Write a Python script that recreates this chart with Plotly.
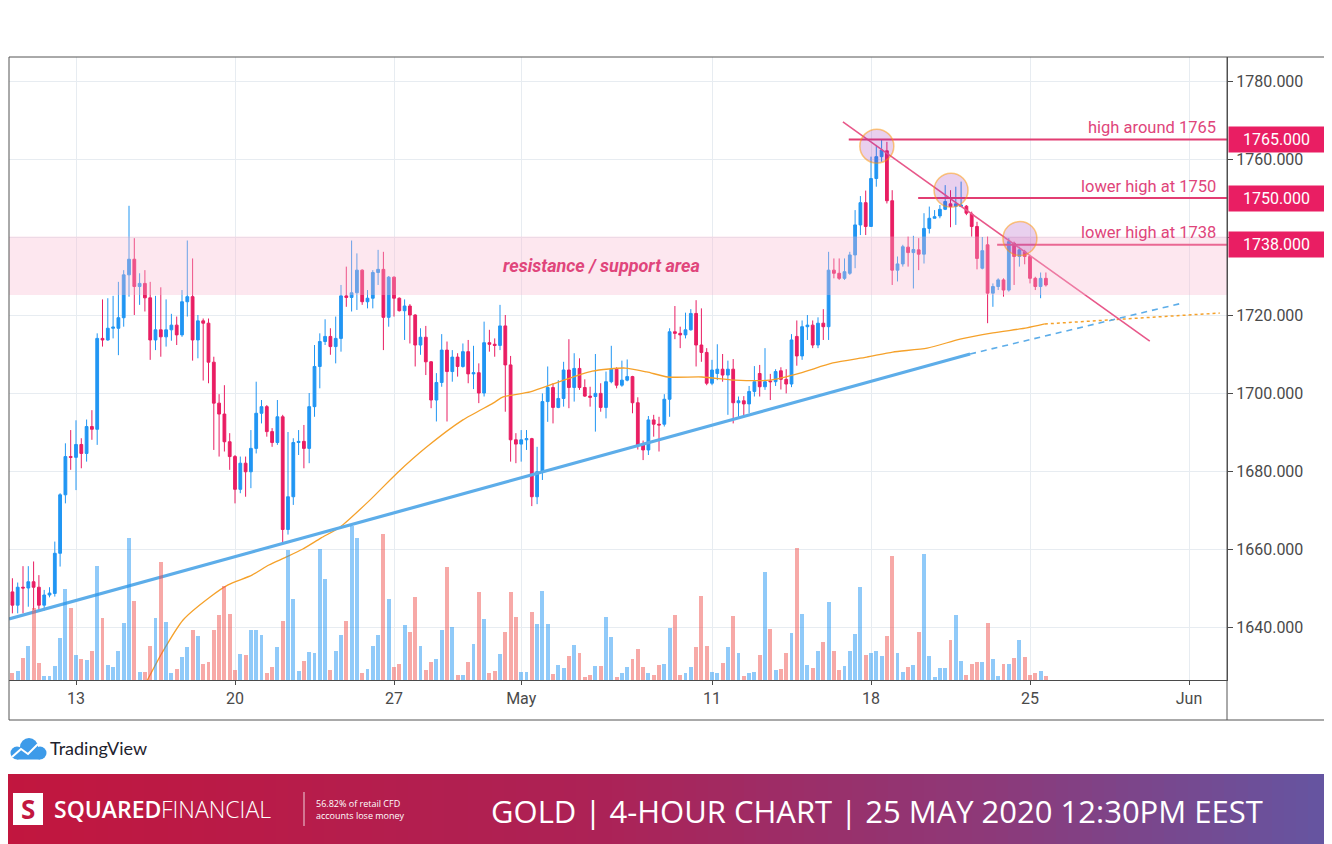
import plotly.graph_objects as go

# the page places the figure 8px from the window's top-left corner
OFF = 8
W, H = 1332 - OFF, 844 - OFF

# ---------------- data ----------------
bar_index = list(range(196))

opens = [1649.0,1645.6,1650.2,1650.0,1651.6,1650.2,1645.6,1648.2,1648.6,1658.9,
         1673.9,1683.7,1683.5,1686.8,1684.5,1691.4,1690.7,1714.0,1713.6,1716.6,
         1716.6,1719.3,1730.3,1734.3,1727.3,1728.1,1724.4,1713.6,1716.2,1714.4,
         1716.2,1717.4,1714.9,1723.4,1724.7,1713.6,1718.5,1717.9,1707.9,1697.4,
         1694.6,1687.5,1683.7,1675.3,1682.0,1679.8,1685.8,1694.8,1696.5,1690.1,
         1687.3,1693.9,1665.0,1673.4,1687.3,1687.6,1685.8,1696.5,1706.8,1713.2,
         1714.5,1711.9,1714.0,1724.9,1724.5,1725.7,1731.5,1723.4,1724.3,1730.9,
         1731.7,1719.4,1729.7,1724.3,1721.1,1722.3,1720.0,1712.3,1714.3,1708.0,
         1698.2,1702.7,1711.0,1705.5,1709.2,1706.8,1710.6,1704.9,1705.2,1700.0,
         1712.9,1712.5,1712.2,1717.2,1707.2,1688.0,1686.9,1688.0,1688.3,1673.4,
         1679.8,1697.8,1701.4,1696.3,1698.6,1705.9,1701.4,1706.3,1701.4,1699.2,
         1699.1,1699.9,1696.3,1702.9,1706.1,1702.0,1703.3,1704.2,1697.5,1686.7,
         1685.4,1693.1,1692.0,1692.0,1698.4,1715.7,1715.3,1714.9,1716.2,1720.4,
         1712.3,1710.4,1702.5,1705.0,1706.1,1704.6,1706.1,1697.5,1698.0,1697.2,
         1700.4,1705.0,1701.6,1703.1,1702.9,1705.7,1703.5,1702.3,1714.5,1709.5,
         1717.0,1717.4,1712.3,1717.9,1717.0,1731.5,1730.7,1729.4,1730.7,1735.4,
         1743.1,1748.8,1742.7,1755.0,1760.6,1762.1,1749.3,1731.5,1733.1,1737.4,
         1736.0,1736.7,1735.6,1742.2,1744.8,1745.4,1747.1,1748.5,1747.9,1747.8,
         1747.9,1745.9,1742.7,1732.0,1738.0,1725.6,1727.3,1729.0,1726.4,1738.4,
         1735.0,1736.2,1735.0,1729.4,1727.3,1729.4]
highs = [1652.5,1651.4,1655.6,1655.6,1656.8,1653.3,1649.5,1650.2,1661.9,1674.3,
         1687.1,1690.5,1693.0,1688.4,1693.2,1695.6,1715.3,1724.0,1724.3,1724.9,
         1728.5,1731.5,1748.0,1739.7,1730.7,1731.5,1728.5,1724.9,1727.1,1724.0,
         1720.3,1719.6,1726.4,1739.1,1734.5,1720.0,1719.1,1719.1,1709.3,1699.7,
         1702.0,1689.7,1684.1,1683.7,1683.7,1690.5,1702.9,1698.2,1696.9,1691.0,
         1698.2,1694.4,1690.0,1688.4,1690.5,1691.8,1700.0,1712.3,1715.3,1718.9,
         1716.6,1719.6,1727.7,1732.4,1739.1,1735.8,1731.7,1726.4,1731.5,1736.7,
         1736.2,1730.0,1729.9,1724.5,1724.0,1722.8,1720.2,1716.6,1717.2,1708.2,
         1705.1,1715.1,1713.2,1711.0,1710.2,1712.7,1713.6,1712.1,1707.6,1718.3,
         1716.2,1714.0,1722.6,1720.0,1709.5,1689.7,1690.5,1690.5,1688.5,1686.2,
         1699.9,1706.8,1702.5,1703.3,1708.0,1713.8,1710.2,1708.9,1703.5,1701.6,
         1710.0,1702.5,1705.5,1712.1,1706.6,1708.3,1708.6,1704.4,1698.9,1687.8,
         1694.1,1694.4,1693.9,1699.7,1716.6,1722.3,1717.0,1720.6,1721.5,1723.8,
         1721.7,1711.5,1708.5,1712.5,1710.0,1708.3,1708.7,1699.1,1699.2,1701.8,
         1706.9,1707.2,1711.5,1704.9,1706.1,1706.6,1706.1,1715.1,1718.6,1718.6,
         1720.0,1718.6,1719.4,1721.5,1736.2,1734.5,1734.5,1734.5,1736.2,1746.9,
         1750.5,1751.9,1760.6,1763.6,1764.9,1764.4,1752.0,1735.0,1738.0,1740.1,
         1740.3,1739.7,1746.1,1747.8,1746.9,1748.2,1753.3,1752.0,1752.9,1754.2,
         1748.2,1746.5,1743.9,1740.0,1740.1,1728.1,1729.4,1729.4,1739.7,1738.8,
         1737.5,1736.7,1735.4,1729.8,1730.9,1730.9]
lows = [1643.5,1643.5,1643.5,1645.2,1644.4,1644.4,1644.2,1647.6,1647.8,1655.5,
        1671.7,1680.3,1675.1,1680.7,1682.4,1688.0,1686.7,1711.9,1713.4,1714.0,
        1709.7,1717.0,1724.7,1720.0,1722.6,1720.9,1708.5,1711.0,1709.3,1711.9,
        1713.4,1712.3,1714.4,1719.6,1708.3,1708.9,1703.2,1702.5,1685.4,1683.7,
        1685.0,1680.3,1671.7,1674.3,1673.4,1675.6,1684.5,1692.2,1688.8,1686.2,
        1686.7,1661.3,1663.7,1671.3,1684.1,1680.7,1682.0,1693.9,1701.2,1712.3,
        1709.8,1707.6,1710.6,1722.1,1720.9,1721.3,1722.6,1721.7,1721.7,1727.7,
        1711.0,1717.0,1719.6,1720.9,1713.6,1712.7,1706.8,1709.8,1704.6,1696.1,
        1692.7,1701.6,1692.7,1702.9,1704.2,1706.5,1702.5,1701.0,1697.4,1699.1,
        1710.6,1709.3,1711.0,1695.2,1682.4,1682.0,1682.4,1685.4,1671.0,1671.5,
        1677.7,1692.6,1692.2,1696.1,1696.5,1696.1,1697.8,1700.8,1699.0,1696.5,
        1690.1,1695.2,1693.5,1702.5,1701.2,1701.6,1703.0,1694.8,1685.5,1682.8,
        1684.1,1688.8,1685.0,1691.4,1693.9,1713.8,1711.5,1714.0,1716.0,1706.8,
        1708.0,1702.0,1702.0,1703.3,1702.9,1694.4,1692.2,1693.9,1693.9,1694.8,
        1699.1,1699.1,1700.8,1698.2,1701.8,1700.9,1699.9,1701.5,1707.0,1708.5,
        1713.6,1711.5,1711.5,1713.6,1713.6,1729.4,1729.0,1729.0,1730.3,1732.0,
        1740.5,1740.5,1742.7,1752.9,1759.3,1748.6,1727.7,1728.6,1732.4,1732.4,
        1726.8,1731.5,1733.2,1740.9,1744.8,1744.8,1746.9,1742.5,1743.1,1747.8,
        1745.6,1740.1,1731.7,1731.7,1717.9,1722.1,1726.4,1724.7,1726.0,1727.7,
        1732.4,1733.0,1728.1,1726.4,1724.3,1727.3]
closes = [1645.6,1650.2,1650.0,1651.6,1650.2,1645.6,1648.2,1648.7,1658.9,1673.9,
          1683.7,1683.5,1686.8,1684.5,1691.4,1690.7,1714.0,1713.6,1716.6,1716.9,
          1719.3,1730.3,1734.3,1727.3,1728.1,1724.4,1713.6,1716.2,1714.4,1716.2,
          1717.4,1714.9,1723.4,1724.7,1713.6,1718.5,1717.9,1707.9,1697.4,1694.6,
          1687.5,1683.7,1675.3,1682.0,1679.8,1685.8,1694.8,1696.5,1690.1,1687.3,
          1693.9,1665.0,1673.4,1687.3,1687.6,1685.8,1696.5,1706.8,1713.2,1714.5,
          1711.9,1714.0,1724.9,1724.5,1725.7,1731.5,1723.4,1724.3,1730.9,1731.7,
          1719.4,1729.7,1724.3,1721.1,1722.3,1720.0,1712.3,1714.3,1708.0,1698.2,
          1702.7,1711.0,1705.5,1709.2,1706.8,1710.6,1704.9,1705.2,1700.0,1712.9,
          1712.5,1712.2,1717.2,1707.2,1688.0,1686.9,1688.0,1688.3,1673.4,1679.8,
          1697.8,1701.4,1696.3,1698.6,1705.9,1701.4,1706.3,1701.4,1699.2,1698.9,
          1699.9,1696.3,1702.9,1706.1,1702.0,1703.3,1704.2,1697.5,1686.7,1685.4,
          1693.1,1692.0,1691.8,1698.4,1715.7,1715.3,1714.9,1716.2,1720.4,1712.3,
          1710.4,1702.5,1705.9,1706.1,1704.6,1706.1,1697.5,1698.0,1697.2,1700.4,
          1702.9,1701.6,1702.9,1702.9,1705.5,1703.5,1702.3,1713.6,1709.5,1717.0,
          1717.4,1712.3,1717.9,1717.0,1731.5,1730.7,1729.4,1731.1,1735.4,1743.1,
          1748.8,1742.7,1755.0,1760.6,1762.3,1749.3,1731.5,1733.1,1737.5,1736.0,
          1736.8,1735.6,1742.2,1744.8,1745.2,1747.1,1749.1,1747.8,1748.5,1748.2,
          1746.1,1742.7,1734.5,1736.5,1725.6,1727.3,1729.0,1726.4,1738.8,1735.0,
          1736.7,1735.0,1729.4,1727.3,1729.4,1727.7]
volumes = [20,26,66,103,216,50,11,11,43,126,273,215,76,64,61,86,343,186,46,38,
           88,171,426,238,23,23,103,186,353,173,21,34,68,100,150,132,48,55,150,195,
           283,198,30,78,76,150,150,136,21,38,100,176,390,243,28,58,85,80,393,303,
           31,86,135,178,461,426,21,33,103,135,438,243,38,48,166,145,248,103,30,53,
           63,151,338,160,16,16,55,108,265,183,21,28,78,143,265,188,23,23,204,168,
           268,168,18,45,35,73,106,80,10,15,41,43,188,128,10,21,40,63,93,38,
           21,15,46,48,155,196,16,20,40,100,253,103,23,21,51,98,192,81,13,21,
           23,76,325,152,30,34,82,141,395,197,45,37,86,115,235,86,30,43,88,138,
           280,76,80,88,73,132,373,82,23,40,45,145,378,71,10,37,37,120,195,58,
           15,47,54,54,171,63,13,47,49,65,119,70,15,20,27,13]

tick_positions = [12, 42, 72, 96, 132, 162, 192, 222]
tick_labels = ["13", "20", "27", "May", "11", "18", "25", "Jun"]

price_ticks = [1640, 1660, 1680, 1700, 1720, 1740, 1760, 1780]
price_tick_labels = ["1640.000", "1660.000", "1680.000", "1700.000", "1720.000",
                     "", "1760.000", "1780.000"]

ma_index = [24.0, 25.6, 28.2, 32.2, 37.3, 40.7, 45.2, 48.4, 51.6, 54.8, 58.2, 61.8,
            67.5, 72.6, 78.2, 85.0, 90.7, 92.6, 97.7, 103.0, 109.4, 115.6, 119.7,
            123.7, 130.1, 136.3, 142.9, 148.6, 154.8, 161.2, 166.1, 172.6, 178.8,
            185.0, 191.4, 194.8]
ma_values = [1622.5, 1626.7, 1633.3, 1641.8, 1647.7, 1650.8, 1653.3, 1655.9, 1657.9,
             1660.0, 1662.8, 1665.6, 1672.6, 1679.5, 1686.2, 1693.1, 1697.4, 1699.0,
             1700.3, 1702.8, 1705.6, 1706.4, 1705.4, 1704.1, 1704.1, 1703.3, 1703.3,
             1705.1, 1707.7, 1709.2, 1710.5, 1711.5, 1713.8, 1715.4, 1716.7, 1717.7]
ma_ext_index = [194.8, 227.8]
ma_ext_values = [1717.7, 1720.5]

trend_index = [-0.64, 180.7]
trend_values = [1642.05, 1710.0]
trend_ext_index = [180.7, 220.9]
trend_ext_values = [1710.0, 1723.1]

down_trend_index = [156.7, 214.6]
down_trend_values = [1769.5, 1713.3]

levels = [1765, 1750, 1738]
level_start = [157.8, 170.9, 185.8]
level_texts = ["high around 1765", "lower high at 1750", "lower high at 1738"]

band_low, band_high = 1725.1, 1740.1

circle_index = [163.1, 177.1, 190.1]
circle_values = [1763.3, 1752.0, 1739.6]

# ---------------- geometry / style (positions in screenshot pixels) ----------------
X0, X1 = 9, 1227
Y0, Y1 = 57, 680
PX_BAR = 5.3
PX_UNIT = 3.9
xr = [(X0 - 12.4) / PX_BAR, (X1 - 12.4) / PX_BAR]
yr = [1720 - (Y1 - 315) / PX_UNIT, 1720 + (315 - Y0) / PX_UNIT]

UP = "#2196f3"
DOWN = "#e91e63"
UP_VOL = "rgba(33,150,243,0.5)"
DOWN_VOL = "rgba(239,83,80,0.5)"
PINK = "#e23d72"
FONT = "Roboto"
AX_COL = "#4a4a4a"
GRID = "#e7ecf1"


def px(x):
    return (x - OFF) / W


def py(y):
    return 1 - (y - OFF) / H


vol_colors = [UP_VOL if c >= o else DOWN_VOL for o, c in zip(opens, closes)]

fig = go.Figure()

fig.add_trace(go.Bar(x=bar_index, y=volumes, marker_color=vol_colors,
                     marker_line_width=0, width=0.75, yaxis="y2",
                     showlegend=False, hoverinfo="skip"))

fig.add_trace(go.Scatter(x=ma_index, y=ma_values, mode="lines",
                         line=dict(color="#f5a12a", width=1.3, shape="spline", smoothing=0.6),
                         showlegend=False, hoverinfo="skip"))
fig.add_trace(go.Scatter(x=ma_ext_index, y=ma_ext_values, mode="lines",
                         line=dict(color="#f5a12a", width=1.5, dash="dot"),
                         showlegend=False, hoverinfo="skip"))

fig.add_trace(go.Scatter(x=trend_index, y=trend_values, mode="lines",
                         line=dict(color="#5dade9", width=3.2),
                         showlegend=False, hoverinfo="skip"))
fig.add_trace(go.Scatter(x=trend_ext_index, y=trend_ext_values, mode="lines",
                         line=dict(color="#5dade9", width=1.6, dash="6px,5px"),
                         showlegend=False, hoverinfo="skip"))

fig.add_trace(go.Candlestick(
    x=bar_index, open=opens, high=highs, low=lows, close=closes,
    increasing=dict(line=dict(color=UP, width=1), fillcolor=UP),
    decreasing=dict(line=dict(color=DOWN, width=1), fillcolor=DOWN),
    whiskerwidth=0, showlegend=False, hoverinfo="skip"))

fig.add_trace(go.Scatter(x=down_trend_index, y=down_trend_values, mode="lines",
                         line=dict(color="#e8588a", width=1.6),
                         showlegend=False, hoverinfo="skip"))

for lv, st in zip(levels, level_start):
    fig.add_trace(go.Scatter(x=[st, xr[1]], y=[lv, lv], mode="lines",
                             line=dict(color=PINK, width=2),
                             showlegend=False, hoverinfo="skip"))

shapes = []
shapes.append(dict(type="rect", xref="paper", yref="y", x0=px(X0), x1=px(X1),
                   y0=band_low, y1=band_high, fillcolor="rgba(248,187,208,0.35)",
                   line_width=0, layer="above"))
rx, ry = 17 / PX_BAR, 17 / PX_UNIT
for cx, cy in zip(circle_index, circle_values):
    shapes.append(dict(type="circle", xref="x", yref="y", x0=cx - rx, x1=cx + rx,
                       y0=cy - ry, y1=cy + ry, fillcolor="rgba(156,39,176,0.22)",
                       line=dict(color="rgba(255,152,0,0.5)", width=1.5), layer="above"))

frame_col = "#555555"
shapes += [
    dict(type="line", xref="paper", yref="paper", x0=px(X0), x1=1, y0=py(Y0), y1=py(Y0),
         line=dict(color=frame_col, width=1)),
    dict(type="line", xref="paper", yref="paper", x0=px(X0), x1=px(X0), y0=py(Y0), y1=py(720),
         line=dict(color=frame_col, width=1)),
    dict(type="line", xref="paper", yref="paper", x0=px(X0), x1=1, y0=py(720), y1=py(720),
         line=dict(color=frame_col, width=1)),
    dict(type="line", xref="paper", yref="paper", x0=px(X1), x1=px(X1), y0=py(Y0), y1=py(720),
         line=dict(color=frame_col, width=1)),
]

stops = [(0.0, (194, 22, 62)), (0.45, (172, 34, 86)), (0.75, (140, 58, 122)), (1.0, (100, 86, 162))]


def grad(t):
    for (t0, c0), (t1, c1) in zip(stops[:-1], stops[1:]):
        if t <= t1:
            f = (t - t0) / (t1 - t0)
            return "rgb(%d,%d,%d)" % tuple(round(a + (b - a) * f) for a, b in zip(c0, c1))
    return "rgb(%d,%d,%d)" % stops[-1][1]


NSTRIP = 111
for k in range(NSTRIP):
    a = k * 1332 / NSTRIP
    b = (k + 1) * 1332 / NSTRIP + 0.8
    shapes.append(dict(type="rect", xref="paper", yref="paper", x0=px(a), x1=px(b),
                       y0=py(846), y1=py(774), fillcolor=grad((k + 0.5) / NSTRIP),
                       line_width=0, layer="above"))

shapes.append(dict(type="rect", xref="paper", yref="paper", x0=px(13), x1=px(43),
                   y0=py(825), y1=py(793), fillcolor="white", line_width=0, layer="above"))
shapes.append(dict(type="line", xref="paper", yref="paper", x0=px(304), x1=px(304),
                   y0=py(792), y1=py(826), line=dict(color="rgba(255,255,255,0.8)", width=1),
                   layer="above"))

TV = "#3d9be9"
for (cx, cy, r) in [(29, 747, 9), (17, 753, 6.5), (40, 753, 6.5)]:
    shapes.append(dict(type="circle", xref="paper", yref="paper", x0=px(cx - r), x1=px(cx + r),
                       y0=py(cy + r), y1=py(cy - r), fillcolor=TV, line_width=0, layer="above"))
shapes.append(dict(type="rect", xref="paper", yref="paper", x0=px(17), x1=px(40),
                   y0=py(759.5), y1=py(750), fillcolor=TV, line_width=0, layer="above"))
zig = [(12, 757), (21, 749), (28, 754), (38, 744)]
path = "M " + " L ".join("%f,%f" % (px(a), py(b)) for a, b in zig)
shapes.append(dict(type="path", xref="paper", yref="paper", path=path,
                   line=dict(color="white", width=2), layer="above"))

annotations = []
for lv, txt in zip(levels, level_texts):
    annotations.append(dict(xref="paper", yref="y", x=px(1218), y=lv, yshift=12,
                            xanchor="right", yanchor="middle", showarrow=False, text=txt,
                            font=dict(family=FONT, size=16.5, color="#e0457b")))
    annotations.append(dict(xref="paper", yref="y", x=px(1228), y=lv, xanchor="left",
                            yanchor="middle", showarrow=False, text="%.3f" % lv,
                            bgcolor=DOWN, width=91, height=21, borderpad=2,
                            font=dict(family=FONT, size=16, color="white")))

annotations.append(dict(xref="paper", yref="y", x=px(601), y=(band_low + band_high) / 2,
                        xanchor="center", yanchor="middle", showarrow=False,
                        text="<b><i>resistance / support area</i></b>",
                        font=dict(family=FONT, size=18, color="#e0457b")))

annotations.append(dict(xref="paper", yref="paper", x=px(48), y=py(748), xanchor="left",
                        yanchor="middle", showarrow=False, text="TradingView",
                        font=dict(family="Lato", size=18, color="#1e222d")))

annotations.append(dict(xref="paper", yref="paper", x=px(28), y=py(809), xanchor="center",
                        yanchor="middle", showarrow=False, text="<b>S</b>",
                        font=dict(family="Open Sans", size=26, color="#c2173f")))
annotations.append(dict(xref="paper", yref="paper", x=px(52), y=py(809), xanchor="left",
                        yanchor="middle", showarrow=False, text="SQUARED",
                        font=dict(family="Open Sans", size=23, color="white", weight=600)))
annotations.append(dict(xref="paper", yref="paper", x=px(159), y=py(809), xanchor="left",
                        yanchor="middle", showarrow=False, text="FINANCIAL",
                        font=dict(family="Open Sans", size=23, color="white", weight=300)))
annotations.append(dict(xref="paper", yref="paper", x=px(314), y=py(809), xanchor="left",
                        yanchor="middle", showarrow=False, align="left",
                        text="56.82% of retail CFD<br>accounts lose money",
                        font=dict(family="Open Sans", size=9, color="white")))
annotations.append(dict(xref="paper", yref="paper", x=px(877), y=py(811), xanchor="center",
                        yanchor="middle", showarrow=False,
                        text="GOLD | 4-HOUR CHART | 25 MAY 2020 12:30PM EEST",
                        font=dict(family="Open Sans", size=31, color="white")))

fig.update_layout(
    width=W, height=H, margin=dict(l=0, r=0, t=0, b=0),
    paper_bgcolor="white", plot_bgcolor="white",
    showlegend=False, boxgap=0.25, bargap=0,
    shapes=shapes, annotations=annotations,
    xaxis=dict(domain=[px(X0), px(X1)], range=xr, rangeslider=dict(visible=False),
               tickmode="array", tickvals=tick_positions, ticktext=tick_labels,
               showgrid=True, gridcolor=GRID, gridwidth=1, zeroline=False,
               showline=True, linecolor=AX_COL, linewidth=1,
               ticks="outside", ticklen=4, tickcolor=AX_COL,
               tickfont=dict(family=FONT, size=16, color=AX_COL), fixedrange=True),
    yaxis=dict(domain=[py(Y1), py(Y0)], range=yr, side="right",
               tickmode="array", tickvals=price_ticks, ticktext=price_tick_labels,
               showgrid=True, gridcolor=GRID, gridwidth=1, zeroline=False,
               showline=True, linecolor=AX_COL, linewidth=1,
               ticks="outside", ticklen=5, tickcolor=AX_COL,
               tickfont=dict(family=FONT, size=16, color=AX_COL), fixedrange=True),
    yaxis2=dict(domain=[py(Y1), py(Y0)], range=[0, (Y1 - Y0) * 3], overlaying="y",
                visible=False, fixedrange=True),
)

fig.write_html("out.html")
